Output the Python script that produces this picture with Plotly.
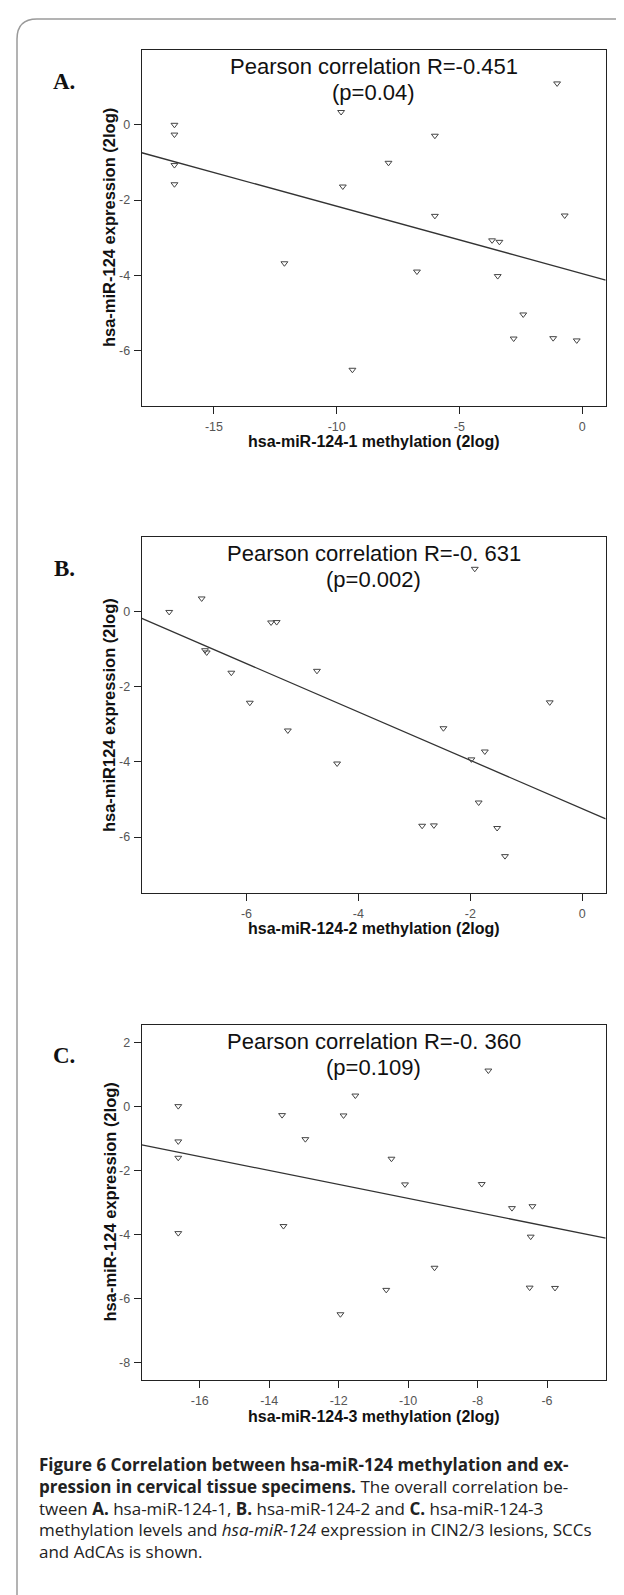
import numpy as np
import plotly.graph_objects as go

W, H = 624, 1595

# ---------------- data ----------------
# Panel A: hsa-miR-124-1 methylation vs hsa-miR-124 expression
a_meth = [-16.61, -16.61, -16.61, -16.61, -9.82, -9.75, -7.89, -6.00, -1.02, -6.00, -0.71,
          -3.67, -3.37, -12.13, -6.73, -3.44, -2.40, -2.79, -1.18, -0.22, -9.36]
a_expr = [0.00, -0.26, -1.07, -1.58, 0.34, -1.64, -1.01, -0.29, 1.10, -2.42, -2.41,
          -3.07, -3.11, -3.68, -3.90, -4.02, -5.04, -5.68, -5.67, -5.73, -6.51]

# Panel B: hsa-miR-124-2 methylation
b_meth = [-7.38, -6.80, -5.56, -5.46, -6.74, -6.71, -6.27, -4.74, -1.92, -5.94, -0.58,
          -5.26, -2.48, -4.38, -1.98, -1.74, -1.85, -2.86, -2.65, -1.52, -1.38]
b_expr = [0.00, 0.36, -0.28, -0.27, -1.02, -1.08, -1.62, -1.57, 1.15, -2.42, -2.41,
          -3.16, -3.10, -4.04, -3.93, -3.72, -5.08, -5.70, -5.69, -5.76, -6.51]

# Panel C: hsa-miR-124-3 methylation
c_meth = [-16.62, -16.62, -16.62, -13.63, -11.86, -11.52, -12.96, -10.48, -7.69, -10.09, -7.88,
          -7.01, -6.42, -16.62, -13.59, -6.47, -9.24, -10.63, -6.50, -5.77, -11.95]
c_expr = [0.01, -1.09, -1.60, -0.27, -0.28, 0.34, -1.02, -1.63, 1.12, -2.43, -2.42,
          -3.17, -3.11, -3.95, -3.73, -4.06, -5.03, -5.72, -5.65, -5.66, -6.48]

panel_letters = ["A.", "B.", "C."]
titles = ["Pearson correlation R=-0.451", "Pearson correlation R=-0. 631", "Pearson correlation R=-0. 360"]
pvalues = ["(p=0.04)", "(p=0.002)", "(p=0.109)"]
x_titles = ["hsa-miR-124-1 methylation (2log)", "hsa-miR-124-2 methylation (2log)",
            "hsa-miR-124-3 methylation (2log)"]
y_titles = ["hsa-miR-124 expression (2log)", "hsa-miR124 expression (2log)",
            "hsa-miR-124 expression (2log)"]

a_xticks = [-15, -10, -5, 0]
b_xticks = [-6, -4, -2, 0]
c_xticks = [-16, -14, -12, -10, -8, -6]
a_yticks = [0, -2, -4, -6]
b_yticks = [0, -2, -4, -6]
c_yticks = [2, 0, -2, -4, -6, -8]

# ---------------- layout helpers ----------------
def fx(px):
    return px / W

def fy(py):
    return 1 - py / H

box_left, box_right = 133.8, 597.7
box_tops = [42.3, 529.3, 1016.7]
box_h = 355.6
x_ranges = [[-17.94, 0.96], [-7.87, 0.42], [-17.67, -4.31]]
y_ranges = [[-7.47, 1.98], [-7.49, 1.99], [-8.54, 2.55]]

panels = [
    (a_meth, a_expr, a_xticks, a_yticks),
    (b_meth, b_expr, b_xticks, b_yticks),
    (c_meth, c_expr, c_xticks, c_yticks),
]

fig = go.Figure()
annotations = []
layout = dict(
    width=W, height=H,
    margin=dict(l=0, r=0, t=0, b=0),
    paper_bgcolor="white", plot_bgcolor="white",
    showlegend=False,
)

tick_font = dict(family="Liberation Sans, Arial, sans-serif", size=12.5, color="#555555")

for i, (xs, ys, xt, yt) in enumerate(panels):
    n = "" if i == 0 else str(i + 1)
    xa, ya = "x" + n, "y" + n
    top = box_tops[i]
    bottom = top + box_h
    xr, yr = x_ranges[i], y_ranges[i]

    # regression line (OLS fit to the points)
    slope, icpt = np.polyfit(np.array(xs), np.array(ys), 1)
    lx = np.array(xr)
    fig.add_trace(go.Scatter(x=lx, y=slope * lx + icpt, mode="lines",
                             line=dict(color="#333333", width=1.3),
                             xaxis=xa, yaxis=ya, hoverinfo="skip"))
    fig.add_trace(go.Scatter(x=xs, y=ys, mode="markers",
                             marker=dict(symbol="triangle-down-open", size=6,
                                         color="#444444", line=dict(width=1, color="#444444")),
                             xaxis=xa, yaxis=ya))

    layout["xaxis" + n] = dict(
        domain=[fx(box_left), fx(box_right)], range=xr, anchor=ya,
        showgrid=False, zeroline=False, showline=True, linecolor="#222222", linewidth=1.2,
        mirror=True, ticks="outside", ticklen=7, tickcolor="#222222", tickwidth=1,
        tickvals=xt, ticktext=[str(v) for v in xt], tickfont=tick_font,
        ticklabelstandoff=2,
    )
    layout["yaxis" + n] = dict(
        domain=[fy(bottom), fy(top)], range=yr, anchor=xa,
        showgrid=False, zeroline=False, showline=True, linecolor="#222222", linewidth=1.2,
        mirror=True, ticks="outside", ticklen=7, tickcolor="#222222", tickwidth=1,
        tickvals=yt, ticktext=[str(v) for v in yt], tickfont=tick_font,
        ticklabelstandoff=1,
    )

    cx = (box_left + box_right) / 2
    annotations += [
        dict(text=titles[i], x=fx(cx), y=fy(top + 16.5), xref="paper", yref="paper",
             showarrow=False, xanchor="center", yanchor="middle",
             font=dict(family="Liberation Sans, Arial, sans-serif", size=22, color="#111111")),
        dict(text=pvalues[i], x=fx(cx), y=fy(top + 42.5), xref="paper", yref="paper",
             showarrow=False, xanchor="center", yanchor="middle",
             font=dict(family="Liberation Sans, Arial, sans-serif", size=22, color="#111111")),
        dict(text="<b>" + panel_letters[i] + "</b>", x=fx(56), y=fy(top + 31), xref="paper", yref="paper",
             showarrow=False, xanchor="center", yanchor="middle",
             font=dict(family="Liberation Serif, Times New Roman, serif", size=23, color="#111111")),
        dict(text="<b>" + x_titles[i] + "</b>", x=fx(cx), y=fy(bottom + 36), xref="paper", yref="paper",
             showarrow=False, xanchor="center", yanchor="middle",
             font=dict(family="Liberation Sans, Arial, sans-serif", size=16, color="#111111")),
        dict(text="<b>" + y_titles[i] + "</b>", x=fx(101), y=fy(top + box_h / 2), xref="paper", yref="paper",
             showarrow=False, xanchor="center", yanchor="middle", textangle=-90,
             font=dict(family="Liberation Sans, Arial, sans-serif", size=16.5, color="#111111")),
    ]

# ---------------- caption ----------------
caption_lines = [
    "<b>Figure 6 Correlation between hsa-miR-124 methylation and ex-</b>",
    "<b>pression in cervical tissue specimens.</b> The overall correlation be-",
    "tween <b>A.</b> hsa-miR-124-1, <b>B.</b> hsa-miR-124-2 and <b>C.</b> hsa-miR-124-3",
    "methylation levels and <i>hsa-miR-124</i> expression in CIN2/3 lesions, SCCs",
    "and AdCAs is shown.",
]
caption_y = [1456.7, 1478.3, 1500.0, 1521.7, 1543.3]
for t, yy in zip(caption_lines, caption_y):
    annotations.append(dict(text=t, x=fx(29), y=fy(yy), xref="paper", yref="paper",
                            showarrow=False, xanchor="left", yanchor="middle",
                            font=dict(family="Open Sans, Noto Sans, sans-serif", size=17, color="#222222")))

layout["annotations"] = annotations

# outer rounded border (top-left corner)
layout["shapes"] = [dict(
    type="path", xref="paper", yref="paper",
    path=f"M {fx(9)},{fy(1595)} L {fx(9)},{fy(31)} Q {fx(9)},{fy(11)} {fx(29)},{fy(11)} L 1,{fy(11)}",
    line=dict(color="#9a9a9a", width=1.5),
)]

fig.update_layout(**layout)
fig.write_html("out.html")
